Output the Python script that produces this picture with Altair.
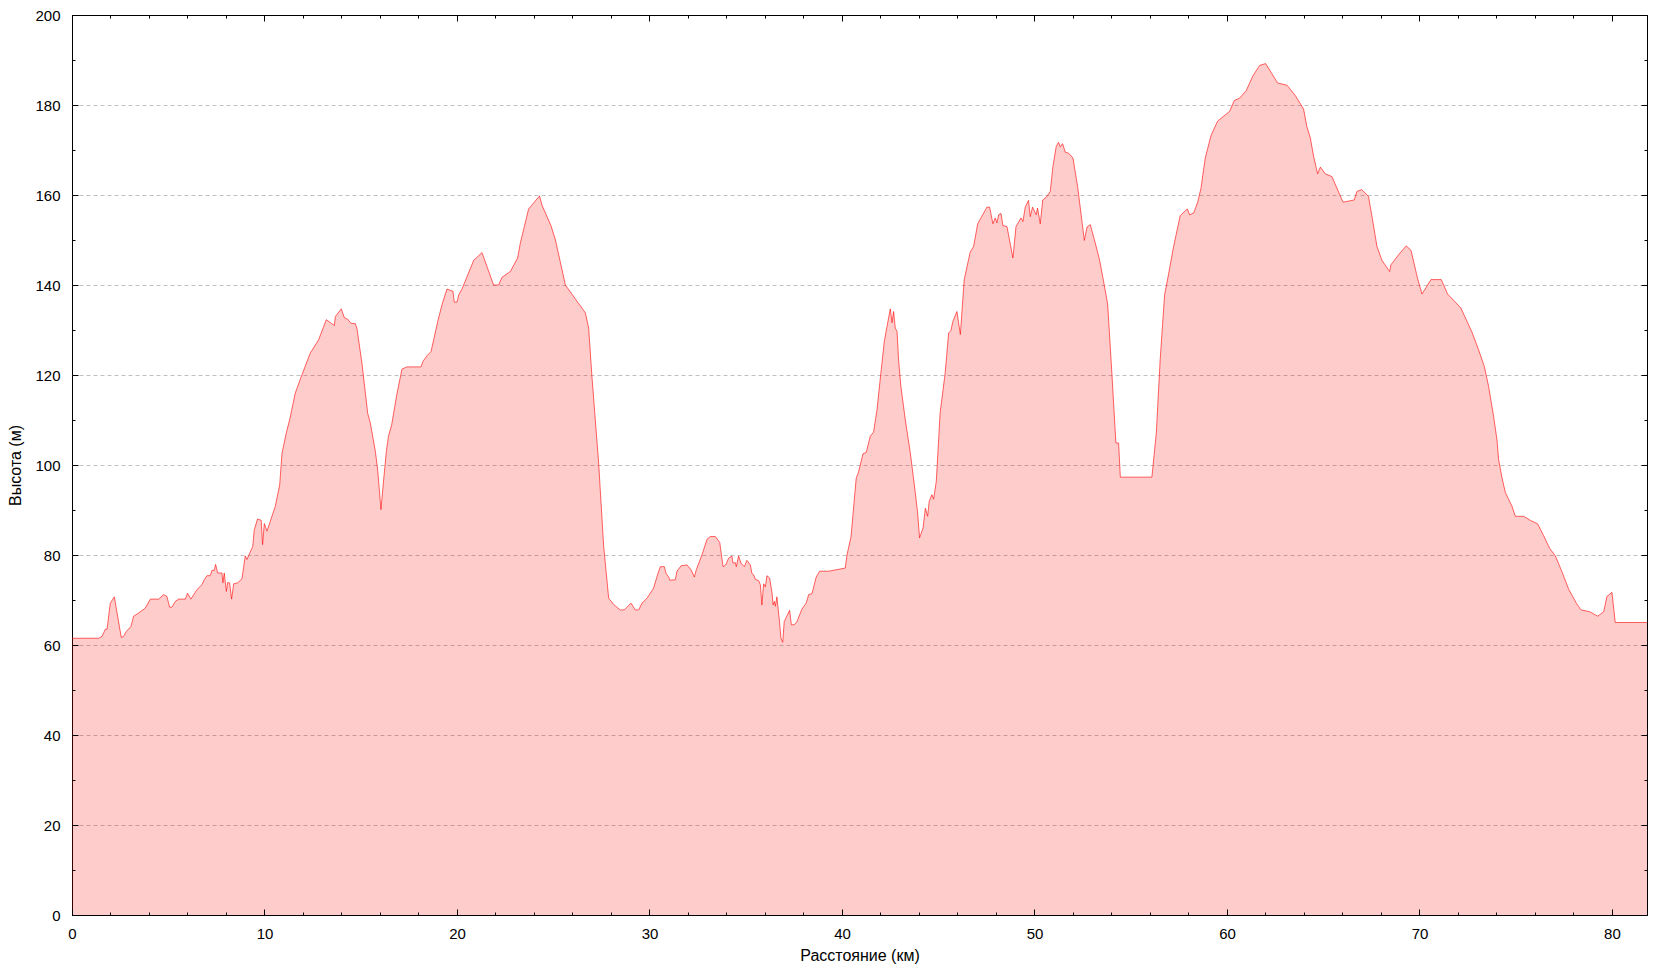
import altair as alt
import pandas as pd

dist_km = [
    0.0, 1.38, 1.56, 1.73, 1.82, 1.99, 2.2, 2.37, 2.56, 2.68, 2.82, 3.06, 3.2, 3.46, 3.81, 4.07, 4.5, 4.76,
    4.93, 5.07, 5.19, 5.37, 5.54, 5.89, 6.0, 6.18, 6.49, 6.75, 6.87, 7.01, 7.18, 7.27, 7.39, 7.46, 7.57,
    7.79, 7.84, 7.91, 8.02, 8.09, 8.19, 8.29, 8.4, 8.6, 8.83, 9.0, 9.09, 9.23, 9.39, 9.47, 9.64, 9.83,
    9.9, 9.99, 10.13, 10.34, 10.56, 10.79, 10.91, 11.13, 11.31, 11.6, 11.95, 12.38, 12.81, 13.21, 13.63,
    13.68, 13.99, 14.15, 14.32, 14.49, 14.72, 14.8, 15.06, 15.36, 15.5, 15.76, 15.88, 16.05, 16.19, 16.33,
    16.44, 16.61, 16.87, 17.14, 17.4, 18.13, 18.23, 18.44, 18.65, 18.75, 19.0, 19.22, 19.48, 19.79, 19.86,
    20.0, 20.09, 20.26, 20.87, 21.3, 21.9, 22.16, 22.34, 22.77, 23.15, 23.29, 23.72, 24.29, 24.41, 24.88,
    25.11, 25.63, 26.67, 26.84, 27.01, 27.36, 27.62, 27.88, 28.14, 28.48, 28.69, 29.04, 29.26, 29.44,
    29.61, 29.87, 30.21, 30.39, 30.56, 30.77, 30.87, 31.0, 31.05, 31.34, 31.43, 31.64, 31.95, 32.16,
    32.33, 32.43, 32.73, 32.99, 33.16, 33.42, 33.65, 33.82, 33.96, 34.11, 34.28, 34.34, 34.46, 34.51,
    34.63, 34.75, 34.93, 35.06, 35.24, 35.32, 35.41, 35.5, 35.67, 35.76, 35.84, 35.93, 36.02, 36.1,
    36.24, 36.37, 36.42, 36.49, 36.54, 36.62, 36.76, 36.83, 36.92, 37.0, 37.28, 37.37, 37.52, 37.66,
    37.92, 38.14, 38.27, 38.44, 38.66, 38.84, 39.31, 40.17, 40.26, 40.47, 40.74, 40.86, 41.09, 41.26,
    41.47, 41.64, 41.82, 42.02, 42.2, 42.34, 42.51, 42.6, 42.68, 42.77, 42.86, 42.94, 43.06, 43.29,
    43.55, 43.81, 43.93, 44.03, 44.21, 44.33, 44.45, 44.53, 44.67, 44.76, 44.9, 45.1, 45.36, 45.54,
    45.66, 45.76, 45.97, 46.15, 46.35, 46.66, 46.84, 47.05, 47.27, 47.53, 47.67, 47.84, 47.96, 48.05,
    48.14, 48.26, 48.36, 48.57, 48.88, 49.04, 49.3, 49.4, 49.52, 49.69, 49.78, 49.9, 50.09, 50.16, 50.3,
    50.43, 50.61, 50.82, 50.96, 51.13, 51.25, 51.34, 51.46, 51.6, 51.77, 52.0, 52.24, 52.59, 52.73,
    52.9, 53.16, 53.38, 53.59, 53.8, 54.02, 54.23, 54.37, 54.46, 56.1, 56.33, 56.53, 56.76, 56.97,
    57.23, 57.57, 57.94, 58.06, 58.27, 58.48, 58.65, 58.87, 59.17, 59.51, 60.14, 60.38, 60.65, 61.0,
    61.35, 61.7, 62.01, 62.63, 63.12, 63.55, 63.98, 64.15, 64.33, 64.5, 64.71, 64.85, 65.11, 65.45,
    66.03, 66.61, 66.75, 67.0, 67.35, 67.53, 67.79, 68.05, 68.45, 68.52, 68.91, 69.31, 69.56, 69.9,
    70.13, 70.6, 71.13, 71.46, 72.15, 72.73, 73.07, 73.37, 73.59, 73.85, 74.03, 74.11, 74.29, 74.46,
    74.81, 74.98, 75.41, 75.76, 76.14, 76.45, 76.76, 77.06, 77.4, 77.75, 78.15, 78.39, 78.84, 79.26,
    79.57, 79.74, 80.0, 80.17, 81.82,
]

elev_m = [
    61.5, 61.5, 61.9, 63.5, 63.5, 69.3, 70.7, 66.4, 61.7, 61.9, 63.0, 64.1, 66.4, 67.1, 68.2, 70.2, 70.2, 71.2,
    70.8, 68.4, 68.4, 69.7, 70.2, 70.2, 71.5, 70.2, 72.3, 73.4, 74.5, 75.4, 75.4, 76.6, 76.6, 77.9, 76.0,
    76.0, 73.8, 76.0, 71.9, 73.9, 73.8, 70.2, 73.6, 73.8, 74.7, 79.8, 79.0, 80.4, 81.9, 85.6, 88.0, 87.7,
    82.3, 87.0, 85.3, 88.0, 90.8, 95.6, 102.6, 107.1, 110.1, 116.0, 120.1, 124.9, 127.8, 132.3, 131.0,
    133.0, 134.7, 132.7, 132.4, 131.5, 131.4, 130.4, 122.7, 111.5, 109.3, 103.0, 98.9, 90.1, 96.7, 103.0,
    106.4, 109.0, 115.6, 121.3, 121.8, 121.8, 123.0, 124.3, 125.2, 127.1, 131.9, 135.6, 139.1, 138.6, 136.2,
    136.2, 137.8, 139.1, 145.5, 147.2, 140.0, 140.0, 141.7, 143.0, 146.0, 149.3, 156.9, 159.8, 157.8, 153.2,
    150.1, 140.0, 133.8, 130.4, 119.7, 100.4, 81.9, 70.4, 69.0, 67.8, 67.8, 69.3, 67.8, 67.8,
    69.3, 70.4, 72.6, 75.2, 77.4, 77.4, 75.8, 75.1, 74.4, 74.5, 76.4, 77.6, 77.8, 76.7,
    75.1, 76.7, 80.1, 83.5, 84.1, 84.1, 82.8, 77.4, 77.8, 79.3, 79.8, 78.2, 78.3, 77.4,
    79.8, 78.2, 77.4, 78.8, 77.8, 75.9, 75.6, 74.6, 74.3, 73.4, 68.9, 73.6, 72.9, 75.4,
    74.9, 71.5, 68.9, 69.7, 68.6, 70.7, 64.9, 61.5, 60.6, 65.2, 67.7, 64.5, 64.5, 65.2,
    68.0, 69.3, 71.2, 71.4, 75.1, 76.4, 76.4, 77.1, 80.0, 84.1, 97.1, 98.4, 102.5, 102.8,
    106.4, 107.3, 112.3, 120.4, 127.5, 130.8, 134.7, 131.6, 134.1, 130.4, 129.7, 123.4, 117.5, 110.0,
    102.7, 93.8, 89.3, 83.8, 86.0, 90.4, 88.6, 91.9, 93.4, 92.4, 96.4, 111.6, 120.4, 129.3,
    129.9, 131.9, 134.1, 129.0, 141.2, 147.3, 148.6, 153.6, 155.3, 157.3, 157.3, 153.6, 154.9, 153.8,
    155.6, 155.9, 153.2, 153.0, 146.0, 153.0, 154.9, 154.1, 157.3, 158.8, 155.2, 157.3, 155.6, 157.1, 153.6,
    158.9, 159.5, 160.8, 166.4, 170.8, 171.7, 170.7, 171.4, 169.5, 169.3, 168.2, 161.9, 149.9, 152.9,
    153.4, 149.3, 145.6, 140.8, 135.8, 120.4, 104.9, 104.9, 97.3, 97.3, 107.1, 123.4, 137.8, 142.5,
    148.6, 155.4, 156.9, 155.6, 156.0, 158.4, 161.5, 168.2, 173.2, 176.4, 178.6, 181.0, 181.5, 183.2,
    186.5, 188.8, 189.2, 184.9, 184.4, 182.1, 179.1, 175.2, 172.7, 168.6, 164.7, 166.2, 164.7, 164.1,
    158.4, 158.9, 160.8, 161.2, 159.7, 155.3, 148.6, 145.5, 143.0, 144.5, 146.7, 148.7, 147.7, 141.5,
    138.0, 141.2, 141.2, 138.0, 134.9, 129.5, 125.6, 121.9, 117.5, 110.8, 105.5, 101.2, 97.1, 93.9,
    90.8, 88.6, 88.6, 87.7, 86.9, 84.3, 81.5, 79.8, 76.3, 72.4, 69.3, 67.8, 67.4, 66.4,
    67.4, 70.8, 71.7, 65.0, 65.0,
]

x_major = [0, 10, 20, 30, 40, 50, 60, 70, 80]
x_minor = list(range(0, 81, 2))
y_major = list(range(0, 201, 20))
y_minor = list(range(0, 201, 10))
y_grid = list(range(20, 200, 20))

df = pd.DataFrame({"d": dist_km, "h": elev_m})

FONT = "Liberation Sans"
xs = alt.Scale(domain=[0, 81.82], nice=False, zero=False)
ys = alt.Scale(domain=[0, 200], nice=False, zero=False)


def tick_axis(orient, values, size, **kw):
    return alt.Axis(
        orient=orient, values=values, tickSize=size, offset=-size, domain=False, grid=False,
        ticks=True, tickColor="black", tickWidth=1, zindex=2, title="", labels=False, **kw
    )


label_style = dict(
    labels=True, labelFont=FONT, labelFontSize=15, labelColor="black", labelFlush=False,
    labelOverlap=False, titleFont=FONT, titleFontSize=16, titleFontWeight="normal", titleColor="black",
)

x_bottom = alt.Axis(
    orient="bottom", values=x_major, tickSize=6, offset=-6, domain=False, grid=False, ticks=True,
    tickColor="black", tickWidth=1, zindex=2, title="Расстояние (км)", labelPadding=11,
    titlePadding=6, **label_style
)
y_left = alt.Axis(
    orient="left", values=y_major, tickSize=6, offset=-6, domain=False, grid=False, ticks=True,
    tickColor="black", tickWidth=1, zindex=2, title="Высота (м)", labelPadding=12,
    titlePadding=11, **label_style
)

grid_axis = alt.Axis(
    orient="left", values=y_grid, grid=True, gridColor="#c0c0c0", gridDash=[4, 3], gridWidth=1,
    ticks=False, labels=False, domain=False, title="", zindex=0
)

base = alt.Chart(df)

grid = base.mark_line(strokeOpacity=0).encode(
    x=alt.X("d:Q", scale=xs, axis=None),
    y=alt.Y("h:Q", scale=ys, axis=grid_axis),
)

area = base.mark_area(color="#ff0000", opacity=0.2, interpolate="linear").encode(
    x=alt.X("d:Q", scale=xs, axis=x_bottom),
    y=alt.Y("h:Q", scale=ys, axis=y_left),
)

line = base.mark_line(color="#ff0000", strokeOpacity=0.6, strokeWidth=1).encode(
    x=alt.X("d:Q", scale=xs, axis=tick_axis("bottom", x_minor, 3)),
    y=alt.Y("h:Q", scale=ys, axis=tick_axis("left", y_minor, 3)),
)

t1 = base.mark_line(strokeOpacity=0).encode(
    x=alt.X("d:Q", scale=xs, axis=tick_axis("top", x_major, 6)),
    y=alt.Y("h:Q", scale=ys, axis=tick_axis("right", y_major, 6)),
)

t2 = base.mark_line(strokeOpacity=0).encode(
    x=alt.X("d:Q", scale=xs, axis=tick_axis("top", x_minor, 3)),
    y=alt.Y("h:Q", scale=ys, axis=tick_axis("right", y_minor, 3)),
)

chart = (
    alt.layer(grid, area, line, t1, t2)
    .resolve_axis(x="independent", y="independent")
    .properties(
        width=1575,
        height=900,
        autosize=alt.AutoSizeParams(type="none"),
        padding={"left": 64, "top": 7, "right": 7, "bottom": 50},
        background="white",
    )
    .configure_view(stroke="black", strokeWidth=1)
)

chart.save("out.html", embed_options={"renderer": "svg", "actions": False})
